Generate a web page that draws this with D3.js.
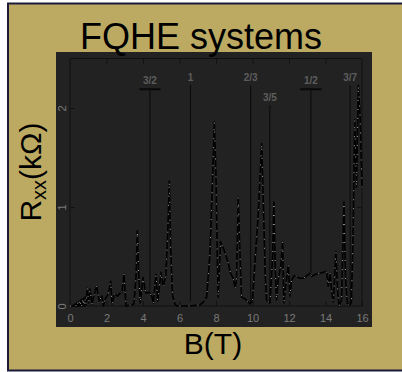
<!DOCTYPE html>
<html>
<head>
<meta charset="utf-8">
<script src="https://cdn.jsdelivr.net/npm/d3@7"></script>
<style>
  body { margin: 0; background: #fff; }
  text { font-family: "Liberation Sans", Arial, sans-serif; }
</style>
</head>
<body>
<div id="chart"></div>
<script>
// magnetic field (T) and Rxx (kOhm)
const fieldB = [
  0.0, 0.15, 0.2, 0.24, 0.28, 0.32, 0.36, 0.4, 0.44, 0.48, 0.52, 0.56, 0.6, 0.64,
  0.68, 0.72, 0.76, 0.8, 0.84, 0.88, 0.95, 1.02, 1.1, 1.2, 1.3, 1.46, 1.6, 1.75,
  1.83, 1.95, 2.1, 2.23, 2.3, 2.45, 2.6, 2.75, 2.85, 2.96, 3.07, 3.3, 3.5, 3.62,
  3.69, 3.76, 3.85, 4.0, 4.15, 4.35, 4.48, 4.57, 4.71, 4.8, 4.99, 5.1, 5.25, 5.35,
  5.44, 5.52, 5.62, 5.75, 5.85, 6.5, 7.1, 7.3, 7.49, 7.67, 7.81, 7.91, 8.0, 8.08,
  8.12, 8.25, 8.45, 8.65, 8.8, 8.95, 9.05, 9.12, 9.22, 9.3, 9.4, 9.6, 9.77, 9.86,
  10.0, 10.13, 10.32, 10.5, 10.6, 10.7, 10.77, 10.96, 11.1, 11.17, 11.25, 11.32,
  11.4, 11.55, 11.65, 11.72, 11.82, 11.96, 12.05, 12.14, 12.3, 12.45, 12.6, 12.8,
  13.0, 13.15, 13.25, 13.45, 13.7, 14.06, 14.15, 14.25, 14.35, 14.43, 14.57, 14.68,
  14.75, 14.88, 15.01, 15.1, 15.2, 15.3, 15.42, 15.52, 15.6, 15.7, 15.8, 15.9, 16.0
];
const rxx = [
  0.0, 0.0, 0.01, 0.0, 0.02, 0.0, 0.03, 0.0, 0.04, 0.0, 0.05, 0.0, 0.06, 0.0,
  0.07, 0.0, 0.08, 0.0, 0.09, 0.01, 0.18, 0.03, 0.17, 0.02, 0.1, 0.2, 0.05, 0.1,
  0.0, 0.08, 0.12, 0.25, 0.02, 0.12, 0.1, 0.13, 0.15, 0.32, 0.0, 0.01, 0.02, 0.3,
  0.76, 0.35, 0.03, 0.29, 0.13, 0.14, 0.1, 0.03, 0.32, 0.05, 0.34, 0.2, 0.3, 0.7,
  1.26, 0.55, 0.1, 0.02, 0.0, 0.0, 0.01, 0.04, 0.09, 0.53, 1.27, 1.86, 1.3, 0.4,
  0.09, 0.65, 0.56, 0.45, 0.33, 0.28, 0.18, 0.26, 1.1, 0.6, 0.09, 0.07, 0.04, 0.02,
  0.06, 0.43, 0.94, 1.64, 1.0, 0.3, 0.06, 0.03, 0.5, 1.05, 0.36, 0.06,
  0.26, 0.4, 0.65, 0.03, 0.2, 0.41, 0.1, 0.26, 0.31, 0.29, 0.28, 0.28,
  0.31, 0.33, 0.3, 0.32, 0.33, 0.35, 0.2, 0.33, 0.13, 0.04, 0.55, 0.1,
  0.0, 0.06, 1.05, 0.27, 0.03, 0.0, 0.04, 0.8, 1.88, 1.2, 2.23, 1.9, 1.2
];

// filling factor markers
const fracText = ["3/2", "1", "2/3", "3/5", "1/2", "3/7"];
const fracB = [4.38, 6.6, 9.9, 10.95, 13.2, 15.35];
const fracTopR = [2.24, 2.27, 2.27, 2.07, 2.24, 2.27];
const fracEndR = [0.16, 0.05, 0.03, 0.05, 0.34, 0.02];
const fracBar = [true, false, false, false, true, false];

const xTicks = [0, 2, 4, 6, 8, 10, 12, 14, 16];
const yTicks = [0, 1, 2];

const W = 402, H = 372;
const svg = d3.select("#chart").append("svg").attr("width", W).attr("height", H);

// slide background + frame
svg.append("rect").attr("x", 8).attr("y", 3.5).attr("width", W).attr("height", 367)
  .attr("fill", "#bcaa62").attr("stroke", "#1c1c3a").attr("stroke-width", 2);

// dark picture panel
svg.append("rect").attr("x", 56).attr("y", 52).attr("width", 316).attr("height", 275)
  .attr("fill", "#222");

const x = d3.scaleLinear().domain([0, 16]).range([70, 362]);
const y = d3.scaleLinear().domain([0, 2.5]).range([306, 58.5]);

// frame of the plot
svg.append("rect").attr("x", x(0)).attr("y", y(2.5))
  .attr("width", x(16) - x(0)).attr("height", y(0) - y(2.5))
  .attr("fill", "none").attr("stroke", "#111").attr("stroke-width", 1);

const gx = svg.append("g").attr("transform", `translate(0,${y(0)})`)
  .call(d3.axisBottom(x).tickValues(xTicks).tickSizeInner(-5).tickSizeOuter(0).tickPadding(8));
const gxTop = svg.append("g").attr("transform", `translate(0,${y(2.5)})`)
  .call(d3.axisTop(x).tickValues(xTicks.slice(1, -1)).tickSizeInner(-5).tickSizeOuter(0).tickFormat(""));
const gy = svg.append("g").attr("transform", `translate(${x(0)},0)`)
  .call(d3.axisLeft(y).tickValues(yTicks).tickFormat(d3.format("d")).tickSizeInner(-5).tickSizeOuter(0));
const gyR = svg.append("g").attr("transform", `translate(${x(16)},0)`)
  .call(d3.axisRight(y).tickValues(yTicks.slice(1)).tickSizeInner(-5).tickSizeOuter(0).tickFormat(""));

[gx, gxTop, gy, gyR].forEach((g) => {
  g.select(".domain").remove();
  g.selectAll(".tick line").attr("stroke", "#111");
  g.selectAll(".tick text").attr("fill", "#7a7a7a").attr("font-size", 11)
    .attr("font-family", "Liberation Sans, Arial, sans-serif");
});

// y tick labels are turned sideways in the original
gy.selectAll(".tick text")
  .attr("x", null).attr("dy", null)
  .attr("text-anchor", "middle")
  .attr("transform", "translate(-4,0) rotate(-90)");

// marker lines and labels
fracText.forEach((t, i) => {
  const top = y(fracTopR[i]);
  svg.append("line")
    .attr("x1", x(fracB[i])).attr("x2", x(fracB[i]))
    .attr("y1", top + 4).attr("y2", y(fracEndR[i]))
    .attr("stroke", "#0a0a0a").attr("stroke-width", 1);
  if (fracBar[i]) {
    svg.append("line")
      .attr("x1", x(fracB[i] - 0.58)).attr("x2", x(fracB[i] + 0.58))
      .attr("y1", top + 5).attr("y2", top + 5)
      .attr("stroke", "#0a0a0a").attr("stroke-width", 2);
  }
  svg.append("text").attr("x", x(fracB[i])).attr("y", top)
    .attr("text-anchor", "middle").attr("font-size", 10).attr("font-weight", "bold")
    .attr("fill", "#5e5e5e").text(t);
});

// the Rxx trace: dark line with light speckle on top
const pts = fieldB.map((b, i) => [b, rxx[i]]);
const line = d3.line().x((d) => x(d[0])).y((d) => y(d[1]));
svg.append("path").attr("d", line(pts)).attr("fill", "none")
  .attr("stroke", "#000").attr("stroke-width", 1.6).attr("stroke-linejoin", "round");
svg.append("path").attr("d", line(pts)).attr("fill", "none")
  .attr("stroke", "#a8a8a8").attr("stroke-width", 1).attr("stroke-dasharray", "1 8");

// titles
svg.append("text").attr("x", 201).attr("y", 49).attr("text-anchor", "middle")
  .attr("font-size", 36).attr("fill", "#000").text("FQHE systems");

svg.append("text").attr("x", 213).attr("y", 354).attr("text-anchor", "middle")
  .attr("font-size", 30).attr("fill", "#000").text("B(T)");

const yl = svg.append("text").attr("transform", "translate(41,172) rotate(-90)")
  .attr("text-anchor", "middle").attr("font-size", 30).attr("fill", "#000");
yl.append("tspan").text("R");
yl.append("tspan").attr("font-size", 20).attr("dy", 5).text("xx");
yl.append("tspan").attr("dy", -5).text("(kΩ)");
</script>
</body>
</html>
